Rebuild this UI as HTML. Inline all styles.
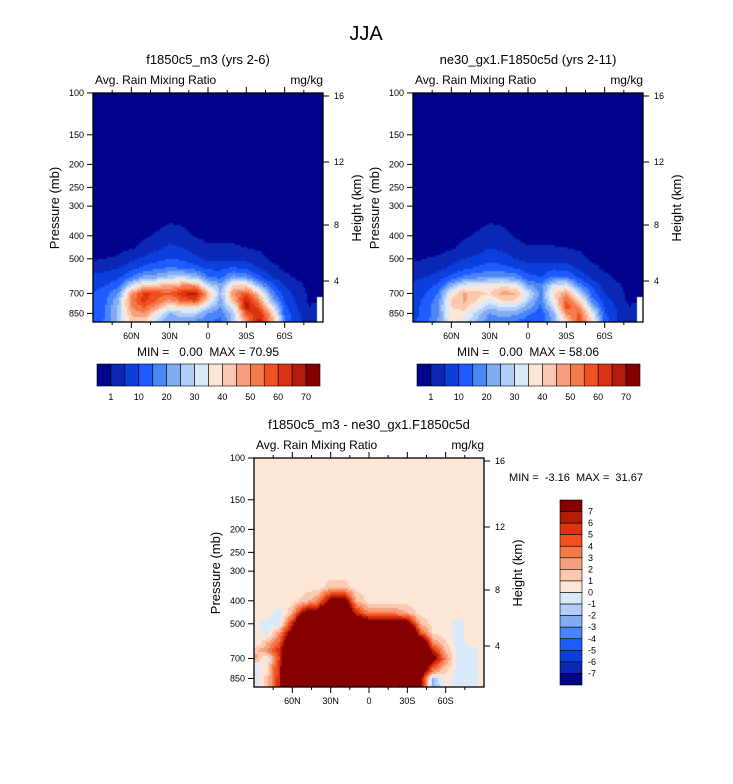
<!DOCTYPE html>
<html><head><meta charset="utf-8">
<style>
body{margin:0;background:#fff;width:733px;height:784px;overflow:hidden;font-family:"Liberation Sans",sans-serif}
svg{position:absolute;left:0;top:0}
canvas{position:absolute}
text{white-space:pre}
</style></head>
<body>
<canvas id="c1" width="230" height="229" style="left:93px;top:93px"></canvas>
<canvas id="c2" width="230" height="229" style="left:413px;top:93px"></canvas>
<canvas id="c3" width="230" height="229" style="left:254px;top:458px"></canvas>
<svg id="s" width="733" height="784"></svg>
<script>
const lats=[90,80,70,60,50,40,30,20,10,0,-10,-20,-30,-40,-50,-60,-70,-80,-90];
const levels=[100,300,350,400,450,500,550,600,650,700,750,800,850,925];
const N=null;
const field1=[
[0,0,0,0,0,0,0,0,0,0,0,0,0,0,0,0,0,0,0],
[0,0,0,0,0,0,0,0,0,0,0,0,0,0,0,0,0,0,0],
[0,0,0,0,0,0,0.8,0.5,0,0,0,0,0,0,0,0,0,0,0],
[0,0,0,0,0.5,1.5,3,2,0.8,0,0,0,0,0,0,0,0,0,0],
[0,0,0,0.5,2,4,6,5,3,1.5,1.5,1.5,1,0.5,0,0,0,0,0],
[0.5,1,1.5,4,6,8,10,9,6,4,4,4,3,2,0.5,0,0,0,0],
[3,4,5,8,12,14,16,15,13,9,9,11,9,5,2,0.5,0,0,0],
[6,7,9,15,22,24,28,30,26,16,14,22,20,12,5,2,0.5,0,0],
[8,10,14,30,42,44,46,50,50,30,22,40,40,24,12,5,2,0,0],
[10,13,20,48,62,58,56,64,68,45,24,50,58,40,18,7,3,0,0],
[11,14,24,52,62,55,48,56,60,40,22,45,66,50,24,9,4,0,N],
[11,15,26,50,56,48,36,40,40,28,20,34,68,58,34,11,5,1,N],
[11,15,26,46,50,36,24,28,28,20,16,28,58,64,44,13,6,2,N],
[12,16,26,42,40,28,20,22,18,16,13,28,48,68,48,16,6,3,N]];
const field2=[
[0,0,0,0,0,0,0,0,0,0,0,0,0,0,0,0,0,0,0],
[0,0,0,0,0,0,0,0,0,0,0,0,0,0,0,0,0,0,0],
[0,0,0,0,0,0,0.8,0.5,0,0,0,0,0,0,0,0,0,0,0],
[0,0,0,0,0.5,1.5,3,2,0.8,0,0,0,0,0,0,0,0,0,0],
[0,0,0,0.5,2,3,5,4,2,1.2,1.2,1.2,1,0.5,0,0,0,0,0],
[0.5,1,1.5,3,5,6,8,7,5,3,3,3,3,2,0.5,0,0,0,0],
[2,3,4,6,9,11,13,12,10,7,7,9,8,4,2,0.5,0,0,0],
[4,5,7,12,17,19,21,21,19,12,10,16,16,9,4,2,0.5,0,0],
[6,8,11,24,33,35,36,38,36,22,16,32,34,18,9,3,1.5,0,0],
[7,10,16,36,46,42,40,48,46,32,18,40,48,30,13,5,2,0,0],
[8,11,18,40,46,40,33,40,40,28,16,36,56,42,18,7,3,0,N],
[8,12,20,40,42,34,26,30,30,22,14,30,58,50,26,9,4,1,N],
[8,12,20,38,38,28,20,22,22,16,12,24,50,56,34,11,5,2,N],
[9,13,21,36,32,24,16,18,14,12,10,22,40,58,40,13,5,2,N]];
const fieldDiff=[
[.5,.5,.5,.5,.5,.5,.5,.5,.5,.5,.5,.5,.5,.5,.5,.5,.5,.5,.5],
[.5,.5,.5,.5,.5,.5,.5,.5,.5,.5,.5,.5,.5,.5,.5,.5,.5,.5,.5],
[.5,.5,.5,.5,.5,.5,1.5,1.5,.5,.5,.5,.5,.5,.5,.5,.5,.5,.5,.5],
[.5,.5,.5,.5,1.5,3,8,9,2,.5,.5,.5,.5,.5,.5,.5,.5,.5,.5],
[.5,.5,-.5,2,8,9,12,12,6,3,3,3,2,.5,.5,.5,.5,.5,.5],
[.5,-.5,-.5,6,15,15,15,15,12,10,10,10,9,2,.5,.5,-.5,.5,.5],
[.5,-.5,3,9,20,20,20,20,20,15,15,15,15,5,1,.5,-.5,.5,.5],
[-.5,2,4,12,20,20,20,20,20,18,18,18,18,12,3,1,-.5,.5,.5],
[1.5,3,6,15,20,20,20,20,20,20,20,20,20,15,6,2,-.5,-.5,.5],
[3,-.5,5,15,20,20,20,20,20,20,20,20,20,15,9,3,-.5,-.5,.5],
[-.5,.5,6,15,20,20,20,20,20,20,20,20,20,12,5,2,-.5,-.5,.5],
[-.5,.5,6,15,20,20,20,20,20,20,20,20,20,10,3,1,-.5,-.5,.5],
[-.5,1.5,6,15,20,20,20,20,20,20,20,20,15,8,-2,.5,-.5,-.5,.5],
[-.5,1.5,6,15,20,20,20,20,20,20,20,4,15,8,-2.5,.5,-.5,-.5,.5]];
const bounds1=[1,5,10,15,20,25,30,35,40,45,50,55,60,65,70];
const boundsDiff=[-7,-6,-5,-4,-3,-2,-1,0,1,2,3,4,5,6,7];
const cbLabels1=["1","10","20","30","40","50","60","70"];
const cbLabelsDiff=["7","6","5","4","3","2","1","0","-1","-2","-3","-4","-5","-6","-7"];
const colors=["#02038b","#0a27b5","#0c40dc","#1e5cff","#4a86f6","#82aaf5","#b2cdf8","#d9e9fa","#fde6d6","#fbc8b0","#f8a07d","#f57a4b","#f3501f","#d83510","#b21c08","#870000"];
const xLab=["60N","30N","0","30S","60S"], xVal=[60,30,0,-30,-60];
const pTicks=[100,150,200,250,300,400,500,700,850];
const hTicks=[16,12,8,4], hPix=[3,69,132,188];

const W=230,H=229,K=103;
const xOf=lat=>(90-lat)/180*W;
const yOf=p=>Math.log(p/100)*K;
function sample(f,lat,p){
  let i=0;while(i<lats.length-2&&lat<lats[i+1])i++;
  let tx=(lats[i]-lat)/(lats[i]-lats[i+1]);
  let lp=Math.log(p),j=0;
  while(j<levels.length-2&&p>levels[j+1])j++;
  let ty=(lp-Math.log(levels[j]))/(Math.log(levels[j+1])-Math.log(levels[j]));
  ty=Math.max(0,Math.min(1,ty));tx=Math.max(0,Math.min(1,tx));
  const a=f[j][i],b=f[j][i+1],c=f[j+1][i],d=f[j+1][i+1];
  if(a===null||b===null||c===null||d===null){
    const nn=[[a,(1-tx)*(1-ty)],[b,tx*(1-ty)],[c,(1-tx)*ty],[d,tx*ty]];
    let best=nn.reduce((m,v)=>v[1]>m[1]?v:m);return best[0];
  }
  return a*(1-tx)*(1-ty)+b*tx*(1-ty)+c*(1-tx)*ty+d*tx*ty;
}
function colorIdx(v,b){let k=0;while(k<b.length&&v>=b[k])k++;return k;}
function draw(id,f,b){
  const ctx=document.getElementById(id).getContext('2d');
  for(let py=0;py<H;py+=2)for(let px=0;px<W;px+=2){
    const lat=90-(px+1)/W*180, p=100*Math.exp((py+1)/K);
    const v=sample(f,lat,p);
    ctx.fillStyle=v===null?"#fff":colors[colorIdx(v,b)];
    ctx.fillRect(px,py,2,2);
  }
}
draw('c1',field1,bounds1);draw('c2',field2,bounds1);draw('c3',fieldDiff,boundsDiff);

const S=document.getElementById('s');const NS="http://www.w3.org/2000/svg";
function el(t,a,txt){const e=document.createElementNS(NS,t);for(const k in a)e.setAttribute(k,a[k]);if(txt!==undefined)e.textContent=txt;S.appendChild(e);return e;}
function txt(x,y,s,size,anchor,name,rot){
  const e=el('text',{x:x,y:y,'font-size':size,'text-anchor':anchor||'start',fill:'#000'},s);
  if(rot)e.setAttribute('transform','rotate(-90 '+x+' '+y+')');
  
  
  return e;
}
function panel(x0,y0,pre,title){
  const r=el('rect',{x:x0,y:y0,width:W,height:H,fill:'none',stroke:'#000','stroke-width':1.3});
  
  
  for(let lat=75;lat>=-75;lat-=15){
    const x=x0+xOf(lat),len=(lat%30===0)?6:3;
    const t1=el('line',{x1:x,y1:y0,x2:x,y2:y0-len,stroke:'#000'});
    
    
    const t2=el('line',{x1:x,y1:y0+H,x2:x,y2:y0+H+len,stroke:'#000'});
    
    
  }
  xVal.forEach((v,i)=>txt(x0+xOf(v),y0+H+17,xLab[i],9,'middle',pre+'-x-tick-label'));
  pTicks.forEach(p=>{
    const y=y0+yOf(p);
    const t=el('line',{x1:x0,y1:y,x2:x0-6,y2:y,stroke:'#000'});
    
    
    txt(x0-9,y+3,String(p),9,'end',pre+'-y-tick-label');
  });
  hTicks.forEach((h,i)=>{
    const y=y0+hPix[i];
    const t=el('line',{x1:x0+W,y1:y,x2:x0+W+6,y2:y,stroke:'#000'});
    
    
    txt(x0+W+11,y+3,String(h),9,'start',pre+'-height-tick-label');
  });
  txt(x0-34,y0+115,'Pressure (mb)',13,'middle',pre+'-y-axis-title',true);
  txt(x0+W+38,y0+115,'Height (km)',13,'middle',pre+'-right-axis-title',true);
  txt(x0+2,y0-9,'Avg. Rain Mixing Ratio',12,'start',pre+'-variable-label');
  txt(x0+W,y0-9,'mg/kg',12,'end',pre+'-units-label');
  txt(x0+W/2,y0-29,title,13,'middle',pre+'-title');
}
txt(366,40,'JJA',20,'middle','figure-title');
panel(93,93,'panel1','f1850c5_m3 (yrs 2-6)');
panel(413,93,'panel2','ne30_gx1.F1850c5d (yrs 2-11)');
panel(254,458,'diff','f1850c5_m3 - ne30_gx1.F1850c5d');
txt(208,356,'MIN =   0.00  MAX = 70.95',12,'middle','panel1-min-max');
txt(528,356,'MIN =   0.00  MAX = 58.06',12,'middle','panel2-min-max');
txt(576,481,'MIN =  -3.16  MAX =  31.67',11,'middle','diff-min-max');
function hbar(x0,pre){
  const w=223/16;
  colors.forEach((c,i)=>{
    const r=el('rect',{x:x0+i*w,y:364,width:w,height:22,fill:c,stroke:'#000','stroke-width':0.6});
    
    
  });
  cbLabels1.forEach((l,i)=>txt(x0+(1+2*i)*w,400,l,9,'middle',pre+'-colorbar-label'));
}
hbar(97,'panel1');hbar(417,'panel2');
(function(){
  const h=185/16;
  for(let i=0;i<16;i++){
    const r=el('rect',{x:560,y:500+i*h,width:22,height:h,fill:colors[15-i],stroke:'#000','stroke-width':0.6});
    
    
  }
  cbLabelsDiff.forEach((l,i)=>txt(588,500+(i+1)*h+3,l,9,'start','diff-colorbar-label'));
})();
</script>
</body></html>
